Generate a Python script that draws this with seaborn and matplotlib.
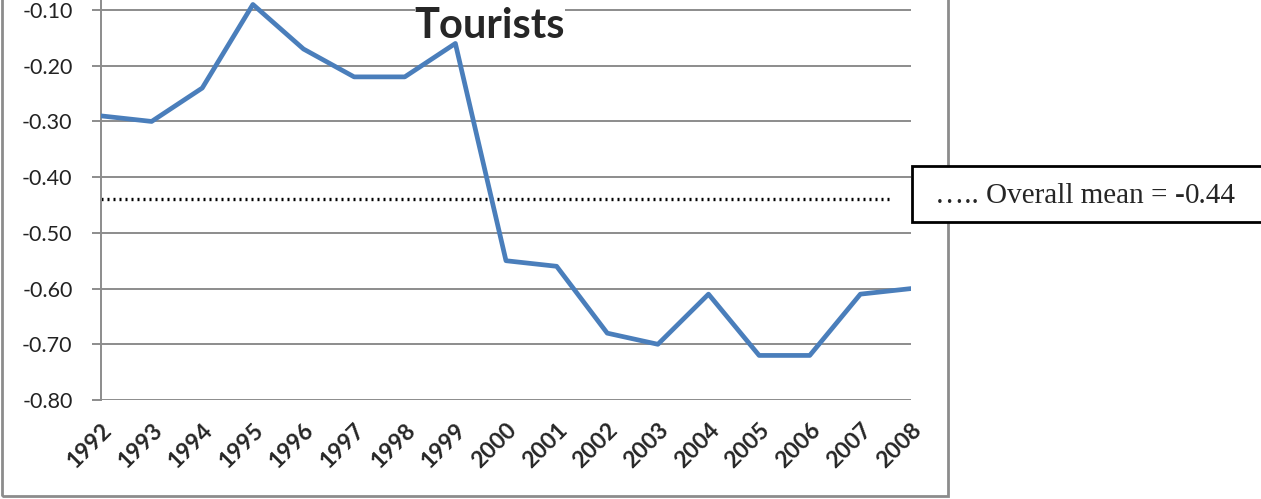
import matplotlib
matplotlib.use("Agg")
import pandas as pd
import seaborn as sns
from matplotlib import pyplot as plt
from matplotlib.patches import Rectangle
from matplotlib.text import Annotation

years = list(range(1992, 2009))
tourists = [-0.29, -0.30, -0.24, -0.09, -0.17, -0.22, -0.22, -0.16,
            -0.55, -0.56, -0.68, -0.70, -0.61, -0.72, -0.72, -0.61, -0.60]
overall_mean = -0.44
yticks = [-0.80, -0.70, -0.60, -0.50, -0.40, -0.30, -0.20, -0.10]

df = pd.DataFrame({'year': years, 'value': tourists})

sns.set_style('white')
plt.rcParams['font.family'] = ['Lato', 'DejaVu Sans']

fig = plt.figure(figsize=(12.61, 4.99), dpi=100)
ax = fig.add_axes([101 / 1261, 1 - 400 / 499, 810 / 1261, 400 / 499])

# outer chart frame
fig.patches.append(Rectangle((2 / 1261, 3 / 499), 946 / 1261, 1.0, transform=fig.transFigure,
                             fill=False, edgecolor='#8c8c8c', linewidth=2, zorder=0))

for y in yticks:
    ax.axhline(y, color='#8c8c8c', linewidth=1.4, zorder=1)

sns.lineplot(data=df, x='year', y='value', ax=ax, color='#4a7ebb', linewidth=3.4, zorder=3)
ax.axhline(overall_mean, xmin=0, xmax=0.975, color='black', linestyle=(0, (0.6, 1.2)),
           linewidth=2.4, zorder=2)

ax.set_xlim(years[0], years[-1])
ax.set_ylim(-0.80, -0.082)
ax.set_yticks(yticks)
ax.set_yticklabels([f'{v:.2f}' for v in yticks], fontsize=15.5, color='#222222')
ax.set_xticks(years)
ax.set_xticklabels([str(y) for y in years], rotation=45, ha='right', rotation_mode='anchor',
                   fontsize=16.5, fontweight='bold')
ax.tick_params(axis='y', length=6.5, width=1.4, color='#8c8c8c', pad=14, left=True)
ax.tick_params(axis='x', length=0, pad=14)
ax.set_xlabel('')
ax.set_ylabel('')
for s in ['top', 'right', 'bottom']:
    ax.spines[s].set_visible(False)
ax.spines['left'].set_color('#8c8c8c')
ax.spines['left'].set_linewidth(1.4)

# title sits over the gridlines but under the data line
ax.text(490 / 1261, 1 - 26 / 499, 'Tourists', transform=fig.transFigure, ha='center',
        va='center', fontsize=30, fontweight='bold', zorder=2.5,
        bbox=dict(facecolor='white', edgecolor='none', pad=0))

# legend box for mean line
fig.patches.append(Rectangle((912 / 1261, 1 - 222 / 499), 352 / 1261, 56 / 499,
                             transform=fig.transFigure, facecolor='white',
                             edgecolor='black', linewidth=2, zorder=5))
serif = ['Liberation Serif', 'DejaVu Serif']
t1 = fig.text(935 / 1261, 1 - 196 / 499, '….. Overall mean = ', ha='left', va='center',
              fontsize=21, family=serif, zorder=6)
t2 = Annotation('-', xy=(1, 0), xycoords=t1, ha='left', va='bottom', fontsize=21,
                family=serif, fontweight='bold', zorder=6, annotation_clip=False)
fig.add_artist(t2)
t3 = Annotation(f'{-overall_mean:.2f}', xy=(1, 0), xycoords=t2, ha='left', va='bottom',
                fontsize=21, family=serif, zorder=6, annotation_clip=False)
fig.add_artist(t3)

fig.savefig('out.png', dpi=100)
